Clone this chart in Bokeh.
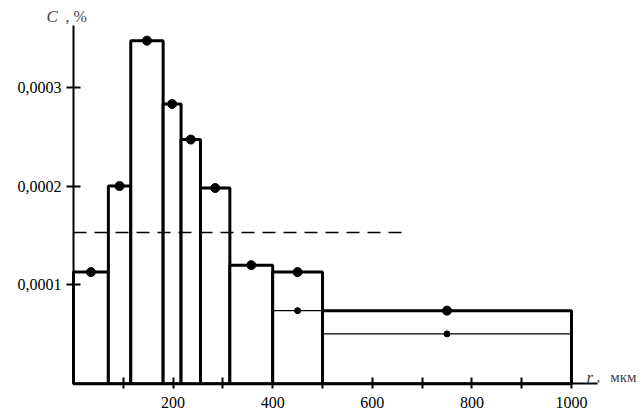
import numpy as np
from bokeh.plotting import figure
from bokeh.models import Label, FixedTicker, CustomJSTickFormatter, Range1d
from bokeh.embed import file_html
from bokeh.resources import INLINE

# bin edges (mkm) and concentration per bin (%)
edges = [0, 70, 115, 180, 216, 255, 314, 400, 500, 1000]
conc = [1.13e-4, 2.0e-4, 3.47e-4, 2.83e-4, 2.47e-4, 1.98e-4, 1.20e-4, 1.13e-4, 0.74e-4]

# second (thin) step series
thin_left = [400, 500]
thin_right = [500, 1000]
thin_conc = [0.74e-4, 0.505e-4]

# dashed mean level
mean_level = 1.53e-4
mean_end = 665

x_ticks = [200, 400, 600, 800, 1000]
x_minor = [100, 300, 500, 700, 900]
y_ticks = [0.0001, 0.0002, 0.0003]

FONT = "Liberation Serif"

# frame covers the whole canvas so the corner captions are not clipped;
# axes are pinned at zero instead of sitting in side panels
p = figure(frame_width=642, frame_height=414, output_backend="svg", toolbar_location=None,
           min_border=0, x_range=Range1d(-146.6, 1142.6), y_range=Range1d(-0.31e-4, 3.876e-4))
p.outline_line_color = None
p.xgrid.visible = False
p.ygrid.visible = False

left = edges[:-1]
right = edges[1:]
mids = [(a + b) / 2 for a, b in zip(left, right)]

p.quad(left=left, right=right, bottom=0, top=conc, fill_color="white",
       line_color="black", line_width=3)
p.scatter(mids, conc, size=9, color="black")

p.segment(x0=thin_left, x1=thin_right, y0=thin_conc, y1=thin_conc,
          line_color="black", line_width=1.3)
thin_mids = [(a + b) / 2 for a, b in zip(thin_left, thin_right)]
p.scatter(thin_mids, thin_conc, size=6, color="black")

p.segment(x0=[0], x1=[mean_end], y0=[mean_level], y1=[mean_level],
          line_color="black", line_width=1.5, line_dash="13 8")

for ax in (p.xaxis[0], p.yaxis[0]):
    ax.fixed_location = 0
    ax.axis_line_width = 2
    ax.major_tick_line_width = 2
    ax.minor_tick_line_width = 2
    ax.major_label_text_font = FONT
    ax.major_label_text_font_size = "16px"
    ax.major_label_text_color = "black"

p.xaxis.bounds = (0, 1052)
p.xaxis.ticker = FixedTicker(ticks=x_ticks, minor_ticks=x_minor)
p.xaxis.major_tick_in = 6
p.xaxis.major_tick_out = 5
p.xaxis.minor_tick_in = 6
p.xaxis.minor_tick_out = 5
p.xaxis.major_label_standoff = 8

p.yaxis.bounds = (0, 0.000362)
p.yaxis.ticker = FixedTicker(ticks=y_ticks, minor_ticks=[])
p.yaxis.major_tick_in = 7
p.yaxis.major_tick_out = 7
p.yaxis.major_label_standoff = 5
p.yaxis.formatter = CustomJSTickFormatter(code="return tick.toFixed(4).replace('.', ',');")

p.add_layout(Label(x=-54, y=3.714e-4, text="C", text_font=FONT, text_font_style="italic",
                   text_font_size="17px", text_baseline="alphabetic"))
p.add_layout(Label(x=-16, y=3.714e-4, text=", %", text_font=FONT,
                   text_font_size="16px", text_baseline="alphabetic"))
p.add_layout(Label(x=1030, y=0.069e-4, text="r", text_font=FONT, text_font_style="italic",
                   text_font_size="17px", text_baseline="alphabetic"))
p.add_layout(Label(x=1050, y=0.069e-4, text=",", text_font=FONT,
                   text_font_size="15px", text_baseline="alphabetic"))
p.add_layout(Label(x=1078, y=0.069e-4, text="мкм", text_font=FONT,
                   text_font_size="15px", text_baseline="alphabetic"))

open("out.html", "w").write(file_html(p, INLINE))
